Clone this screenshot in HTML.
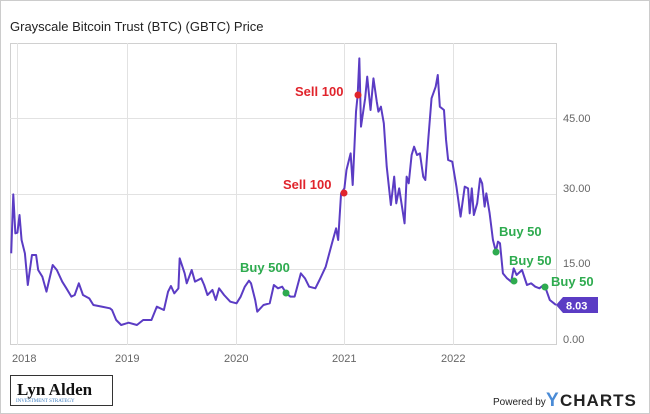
<!DOCTYPE html>
<html><head><style>
html,body{margin:0;padding:0;background:#fff}
body{width:650px;height:414px;position:relative;overflow:hidden;font-family:"Liberation Sans",sans-serif}
.frame{position:absolute;left:0;top:0;width:648px;height:412px;border:1px solid #ccc}
</style></head><body>
<div class="frame"></div>
<svg width="650" height="414" style="position:absolute;left:0;top:0" font-family="Liberation Sans, sans-serif">
<text x="10" y="31" font-size="13" fill="#222">Grayscale Bitcoin Trust (BTC) (GBTC) Price</text>
<rect x="10.5" y="43.5" width="546" height="301" fill="none" stroke="#d0d0d0"/>
<g stroke="#e2e2e2" stroke-width="1">
<line x1="10" y1="118.5" x2="556" y2="118.5"/><line x1="10" y1="194.5" x2="556" y2="194.5"/><line x1="10" y1="269.5" x2="556" y2="269.5"/>
<line x1="17.5" y1="43" x2="17.5" y2="345"/><line x1="127.5" y1="43" x2="127.5" y2="345"/><line x1="236.5" y1="43" x2="236.5" y2="345"/><line x1="344.5" y1="43" x2="344.5" y2="345"/><line x1="453.5" y1="43" x2="453.5" y2="345"/>
</g>
<g font-size="11" fill="#666">
<text x="563" y="122">45.00</text><text x="563" y="192">30.00</text><text x="563" y="267">15.00</text><text x="563" y="343">0.00</text>
<text x="12" y="362">2018</text><text x="115" y="362">2019</text><text x="224" y="362">2020</text><text x="332" y="362">2021</text><text x="441" y="362">2022</text>
</g>
<g transform="translate(0,40) scale(0.41494,0.33333)">
<polyline fill="none" stroke="#5b3cc4" stroke-width="2" vector-effect="non-scaling-stroke" stroke-linejoin="round" points="27,640 32,463 37,580 42,578 47,525 52,600 60,640 67,735 77,645 87,645 92,690 102,710 112,755 127,675 137,690 150,725 160,745 172,770 180,765 190,730 200,765 215,775 225,795 245,800 265,805 270,810 280,840 292,855 310,848 330,855 345,840 365,840 378,800 395,810 405,755 412,738 420,760 430,745 433,655 445,700 450,730 462,690 470,725 485,715 492,735 500,765 512,750 520,780 528,745 540,765 555,785 570,790 580,770 590,740 600,722 605,730 615,780 620,815 635,795 650,790 660,735 670,745 680,740 690,760 700,770 710,770 725,700 735,715 745,740 760,745 770,720 785,680 800,610 810,565 815,600 822,460 830,445 835,390 845,340 850,435 858,215 862,165 866,55 870,260 880,175 885,110 893,210 900,115 908,185 912,215 918,200 925,250 932,380 942,495 950,410 955,490 962,445 975,550 980,410 985,430 992,345 998,320 1005,345 1012,340 1020,410 1025,420 1032,300 1040,175 1050,140 1055,105 1060,200 1070,210 1075,300 1080,360 1090,365 1100,440 1110,530 1120,440 1128,445 1132,520 1137,445 1142,525 1150,490 1157,415 1162,430 1168,500 1172,460 1180,520 1188,600 1195,635 1200,605 1205,610 1212,700 1222,715 1232,725 1238,685 1245,705 1258,690 1270,735 1280,730 1290,740 1300,745 1310,735 1315,745 1325,780 1335,790 1340,795"/>
</g>
<circle cx="358" cy="95" r="3.5" fill="#e0242c"/><circle cx="344" cy="193" r="3.5" fill="#e0242c"/>
<circle cx="286" cy="293" r="3.5" fill="#2eab4f"/><circle cx="496" cy="252" r="3.5" fill="#2eab4f"/><circle cx="514" cy="281" r="3.5" fill="#2eab4f"/><circle cx="545" cy="287" r="3.5" fill="#2eab4f"/>
<g font-size="13" font-weight="bold">
<text x="295" y="96" fill="#e0242c">Sell 100</text><text x="283" y="189" fill="#e0242c">Sell 100</text>
<text x="240" y="272" fill="#2eab4f">Buy 500</text><text x="499" y="236" fill="#2eab4f">Buy 50</text><text x="509" y="265" fill="#2eab4f">Buy 50</text><text x="551" y="286" fill="#2eab4f">Buy 50</text>
</g>
<polygon points="556,305 563,297 598,297 598,313 563,313" fill="#5b3cc4"/>
<text x="566" y="309.5" font-size="11" font-weight="bold" fill="#fff">8.03</text>
<rect x="10.5" y="375.5" width="102" height="30" fill="#fff" stroke="#333"/>
<text x="17" y="395" font-family="Liberation Serif, serif" font-size="17" font-weight="bold" fill="#111">Lyn Alden</text>
<text x="16" y="402" font-family="Liberation Serif, serif" font-size="5" fill="#3a7bbf">INVESTMENT STRATEGY</text>
<text x="493" y="405" font-size="10" fill="#222">Powered by</text>
<text x="546" y="406" font-size="19" font-weight="bold" fill="#4a8bd6">Y</text>
<text x="560" y="406" font-size="17" font-weight="bold" fill="#222" letter-spacing="1">CHARTS</text>
</svg>
</body></html>
